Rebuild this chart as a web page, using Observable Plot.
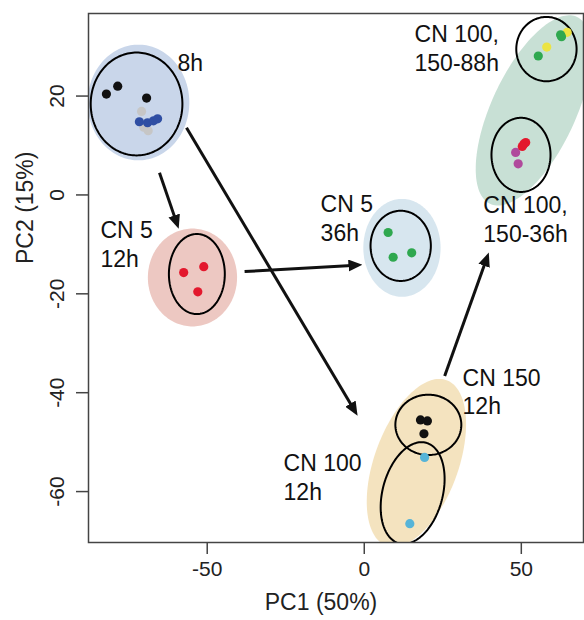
<!DOCTYPE html>
<html>
<head>
<meta charset="utf-8">
<script src="https://cdn.jsdelivr.net/npm/d3@7"></script>
<script src="https://cdn.jsdelivr.net/npm/@observablehq/plot@0.6"></script>
<style>
  html, body { margin: 0; padding: 0; background: #fff; }
  #chart { width: 584px; height: 620px; }
</style>
</head>
<body>
<div id="chart"></div>
<script>
// ---- data ----
const xTicks = [-50, 0, 50];
const yTicks = [-60, -40, -20, 0, 20];
const xLabel = "PC1 (50%)";
const yLabel = "PC2 (15%)";

// samples: PC1, PC2, sample type
const sampleX = [-82.1, -78.5, -69.3, -70.9, -70.2, -68.8, -71.6, -69.0, -67.1, -65.8,
                 -57.5, -51.1, -53.0,
                 7.6, 9.2, 15.1,
                 64.6, 58.1, 62.5, 62.8, 55.4,
                 50.8, 51.4, 50.3, 48.2, 49.0,
                 17.9, 20.1, 19.0,
                 19.2, 14.5];
const sampleY = [20.4, 22.0, 19.6, 16.9, 13.7, 13.0, 14.8, 14.6, 15.0, 15.4,
                 -15.7, -14.5, -19.6,
                 -7.6, -12.6, -11.7,
                 32.9, 29.9, 32.4, 32.0, 28.1,
                 10.3, 10.6, 9.8, 8.6, 6.3,
                 -45.5, -45.7, -48.3,
                 -53.1, -66.5];
const sampleType = ["k","k","k","g","g","g","b","b","b","b",
                    "r","r","r",
                    "G","G","G",
                    "y","y","G","G","G",
                    "r","r","r","m","m",
                    "k","k","k",
                    "c","c"];

// group hulls (shaded): centre and two half-axis vectors, in PC units
const hullName = ["8h", "CN5 12h", "CN5 36h", "CN100/150 late", "12h"];
const hullCx = [-71.9, -54.7, 12.0, 53.9, 16.6];
const hullCy = [18.7, -16.7, -10.7, 17.1, -54.2];
const hullUx = [16.2, 14.2, 12.3, 13.86, 9.59];
const hullUy = [0, 0, 0, 18.90, 16.74];
const hullVx = [0, 0, 0, 12.13, 12.57];
const hullVy = [11.7, 9.9, 9.9, -3.60, -2.91];

// condition ellipses (outlined)
const ellCx = [-72.5, -53.3, 11.6, 58.0, 49.9, 20.4, 15.4];
const ellCy = [18.4, -16.0, -10.3, 29.5, 8.1, -46.5, -60.3];
const ellUx = [14.6, 8.9, 9.6, 9.6, 9.4, 10.5, 4.29];
const ellUy = [0, 0, 0, 0, 0, 0, 10.17];
const ellVx = [0, 0, 0, 0, 0, 0, 9.23];
const ellVy = [10.4, 8.1, 7.1, 6.5, 7.5, 6.1, -1.57];

// trajectory arrows
const arrX1 = [-65.2, -56.6, -38.1, 25.6];
const arrY1 = [4.5, 13.6, -15.5, -36.6];
const arrX2 = [-59.7, -3.1, -2.5, 39.0];
const arrY2 = [-5.7, -43.6, -14.2, -12.8];

// annotations
const annText = ["8h", "CN 5\n12h", "CN 5\n36h", "CN 100,\n150-88h", "CN 100,\n150-36h", "CN 150\n12h", "CN 100\n12h"];
const annX = [-59.5, -84.0, -13.9, 16.0, 37.9, 31.3, -25.7];
const annY = [27.0, -9.83, -4.57, 29.8, -4.77, -39.6, -56.9];

// ---- styles ----
const typeColor = {k: "#111111", g: "#c6c6c6", b: "#2f4ea3", r: "#e3182d", G: "#2fa84f", y: "#ece443", m: "#b04a9c", c: "#56b4d8"};
const hullColor = ["#c9d6ea", "#edc8c2", "#d7e6ef", "#c8e0d5", "#f4e3bf"];
const drawOrder = ["g", "b", "k", "y", "G", "m", "r", "c"];

// ---- build ----
function ring(cx, cy, ux, uy, vx, vy, id) {
  const n = 160, pts = [];
  for (let i = 0; i < n; i++) {
    const t = 2 * Math.PI * i / n;
    pts.push({id, x: cx + Math.cos(t) * ux + Math.sin(t) * vx, y: cy + Math.cos(t) * uy + Math.sin(t) * vy});
  }
  return pts;
}
const hulls = hullName.map((n, i) => ring(hullCx[i], hullCy[i], hullUx[i], hullUy[i], hullVx[i], hullVy[i], n));
const ellPts = ellCx.flatMap((c, i) => ring(c, ellCy[i], ellUx[i], ellUy[i], ellVx[i], ellVy[i], "e" + i));
const samples = sampleX.map((x, i) => ({x, y: sampleY[i], t: sampleType[i]}))
  .sort((a, b) => drawOrder.indexOf(a.t) - drawOrder.indexOf(b.t));
const arrows = arrX1.map((x1, i) => ({x1, y1: arrY1[i], x2: arrX2[i], y2: arrY2[i]}));
const anns = annText.map((t, i) => ({t, x: annX[i], y: annY[i]}));

const font = "'Liberation Sans', Arial, Helvetica, sans-serif";

const svg = Plot.plot({
  width: 584,
  height: 620,
  marginLeft: 88,
  marginRight: 1,
  marginTop: 13,
  marginBottom: 78,
  style: {fontFamily: font, fontSize: "21px", color: "#222", background: "#fff", overflow: "visible"},
  x: {domain: [-87.8, 69.8]},
  y: {domain: [-70.3, 36.7]},
  marks: [
    ...hulls.map((h, i) => Plot.line(h, {x: "x", y: "y", curve: "linear-closed", fill: hullColor[i], stroke: "none", clip: true})),
    Plot.line(ellPts, {x: "x", y: "y", z: "id", curve: "linear-closed", stroke: "#000", strokeWidth: 2, fill: "none", clip: true}),
    Plot.link(arrows, {x1: "x1", y1: "y1", x2: "x2", y2: "y2", stroke: "#111", strokeWidth: 3, strokeLinecap: "butt"}),
    Plot.dot(samples, {x: "x", y: "y", r: 4.6, fill: d => typeColor[d.t], stroke: "none"}),
    Plot.text(anns, {x: "x", y: "y", text: "t", textAnchor: "start", lineHeight: 1.26, fontSize: 23, fill: "#111"}),
    Plot.frame({stroke: "#444", strokeWidth: 1.5}),
    Plot.axisX({ticks: xTicks, tickFormat: d => String(d), tickSize: 12, tickPadding: 7, label: null, fontSize: 21, stroke: "#444", strokeWidth: 1.5}),
    Plot.axisY({ticks: yTicks, tickFormat: d => String(d), tickSize: 12, tickPadding: 13, tickRotate: -90, label: null, fontSize: 21, stroke: "#444", strokeWidth: 1.5}),
    Plot.text([xLabel], {text: d => d, frameAnchor: "bottom", dx: -15, dy: 67, fontSize: 23, fill: "#222"}),
    Plot.text([yLabel], {text: d => d, frameAnchor: "left", rotate: -90, dx: -63, dy: -14, fontSize: 23, fill: "#222"})
  ]
});

// filled triangular arrowheads
const s = d3.select(svg);
const defs = s.insert("defs", ":first-child");
defs.append("marker")
  .attr("id", "tri")
  .attr("viewBox", "0 0 14 12")
  .attr("markerWidth", 14)
  .attr("markerHeight", 12)
  .attr("markerUnits", "userSpaceOnUse")
  .attr("refX", 8)
  .attr("refY", 6)
  .attr("orient", "auto")
  .append("path")
  .attr("d", "M0,0L14,6L0,12Z")
  .attr("fill", "#111");
s.selectAll('g[aria-label="link"] path').attr("marker-end", "url(#tri)");

document.getElementById("chart").appendChild(svg);
</script>
</body>
</html>
